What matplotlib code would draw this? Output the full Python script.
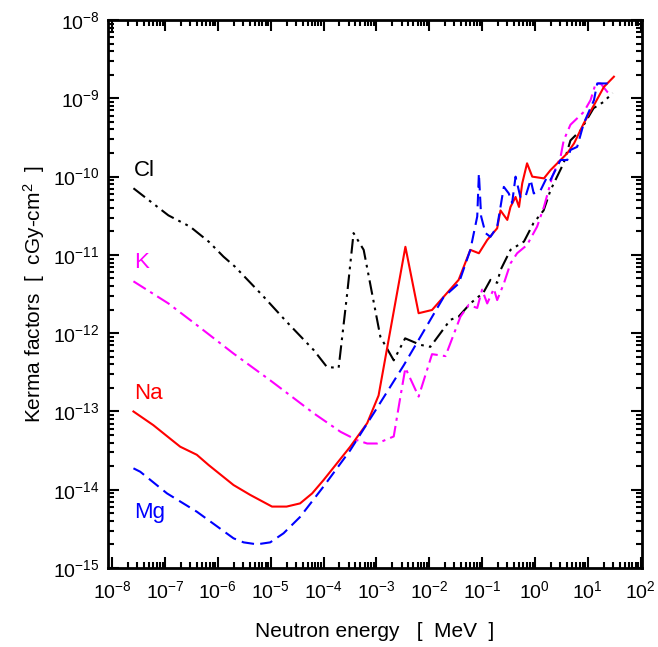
import matplotlib
matplotlib.use("Agg")
import matplotlib.pyplot as plt

# ============================================================
# DATA
# ============================================================

cl_energy = [2.53e-8, 1.16e-7, 3.0e-7, 6.7e-7, 1.28e-6, 2.1e-6, 6.8e-6, 2.0e-5, 6.5e-5,
             1.16e-4, 1.93e-4, 2.8e-4, 3.7e-4, 5.75e-4, 1.19e-3, 2.13e-3, 3.5e-3, 6.8e-3,
             1.05e-2, 2.5e-2, 3.6e-2, 6.0e-2, 0.106, 0.144, 0.193, 0.223, 0.345, 0.62,
             0.94, 1.46, 1.97, 3.5, 4.7, 7.3, 12.9, 19.9, 29.5]
cl_kerma = [7.1e-11, 3.2e-11, 2.29e-11, 1.48e-11, 9.5e-12, 7.1e-12, 3.1e-12, 1.4e-12, 6.1e-13,
            3.7e-13, 3.6e-13, 3.2e-12, 1.9e-11, 1.16e-11, 9.0e-13, 4.5e-13, 8.6e-13, 7.1e-13,
            6.7e-13, 1.48e-12, 1.63e-12, 2.4e-12, 3.3e-12, 4.8e-12, 4.4e-12, 6.4e-12, 1.16e-11, 1.48e-11,
            2.55e-11, 3.7e-11, 6.7e-11, 1.49e-10, 2.9e-10, 3.9e-10, 7.5e-10, 9.0e-10, 1.17e-9]

k_energy = [2.53e-8, 1.16e-7, 4.0e-7, 1.98e-6, 9.8e-6, 2.35e-5, 6.5e-5, 2.1e-4, 4.3e-4,
            6.7e-4, 1.03e-3, 2.13e-3, 2.85e-3, 3.54e-3, 6.3e-3, 1.13e-2, 2.03e-2, 3.9e-2,
            5.6e-2, 8.1e-2, 0.100, 0.125, 0.167, 0.193, 0.258, 0.345, 0.46, 0.71, 1.1,
            1.48, 2.13, 3.06, 3.5, 4.7, 8.4, 11.3, 14.1, 17.5, 23.4, 29.0]
k_kerma = [4.6e-12, 2.4e-12, 1.27e-12, 5.5e-13, 2.5e-13, 1.6e-13, 9.5e-14, 5.5e-14, 4.3e-14,
           3.9e-14, 3.9e-14, 4.8e-14, 1.55e-13, 3.6e-13, 1.55e-13, 5.4e-13, 5.1e-13, 1.63e-12,
           2.3e-12, 2.1e-12, 3.6e-12, 2.4e-12, 3.7e-12, 2.65e-12, 4.3e-12, 7.8e-12, 1.05e-11, 1.34e-11, 2.3e-11,
           4.1e-11, 1.0e-10, 1.8e-10, 2.9e-10, 4.6e-10, 6.7e-10, 9.5e-10, 1.55e-9, 1.55e-9, 1.21e-9, 1.1e-9]

na_energy = [2.53e-8, 6.0e-8, 1.25e-7, 1.94e-7, 4.0e-7, 6.7e-7, 1.98e-6, 4.1e-6, 1.06e-5,
             2.0e-5, 3.6e-5, 6.1e-5, 1.0e-4, 3.2e-4, 6.7e-4, 1.1e-3, 3.54e-3, 6.3e-3,
             1.13e-2, 2.03e-2, 3.6e-2, 6.0e-2, 8.7e-2, 0.125, 0.193, 0.223, 0.30, 0.345,
             0.43, 0.50, 0.575, 0.71, 0.89, 1.48, 1.97, 3.05, 4.1, 5.5, 8.4, 13.1, 20.2, 31.2]
na_kerma = [1.0e-13, 6.7e-14, 4.5e-14, 3.55e-14, 2.8e-14, 2.07e-14, 1.15e-14, 8.6e-15, 6.1e-15,
            6.1e-15, 6.7e-15, 9.0e-15, 1.33e-14, 3.55e-14, 7.1e-14, 1.6e-13, 1.27e-11, 1.8e-12,
            1.98e-12, 3.1e-12, 4.8e-12, 1.16e-11, 1.05e-11, 1.55e-11, 2.19e-11, 3.7e-11, 2.8e-11, 4.1e-11,
            5.5e-11, 4.1e-11, 8.2e-11, 1.48e-10, 1.0e-10, 9.5e-11, 1.21e-10, 1.63e-10, 1.99e-10, 2.66e-10,
            4.8e-10, 8.2e-10, 1.4e-9, 1.89e-9]

mg_energy = [2.53e-8, 3.4e-8, 1.09e-7, 4.0e-7, 1.98e-6, 3.07e-6, 5.5e-6, 9.8e-6, 1.75e-5,
             3.6e-5, 1.0e-4, 3.2e-4, 8.9e-4, 3.3e-3, 1.88e-2, 3.6e-2, 6.0e-2, 8.1e-2,
             8.7e-2, 9.6e-2, 0.116, 0.144, 0.193, 0.223, 0.258, 0.32, 0.37, 0.43, 0.53,
             0.66, 0.83, 0.95, 1.28, 1.71, 1.97, 3.05, 4.1, 4.7, 6.3, 8.4, 13.1, 15.1, 31.2]
mg_kerma = [1.88e-14, 1.7e-14, 9.0e-15, 5.25e-15, 2.4e-15, 2.13e-15, 2.01e-15, 2.13e-15, 2.78e-15,
            4.5e-15, 1.1e-14, 3.2e-14, 9.5e-14, 3.9e-13, 2.9e-12, 4.3e-12, 1.16e-11, 3.1e-11,
            1.1e-10, 3.1e-11, 1.9e-11, 1.7e-11, 2.3e-11, 4.1e-11, 7.4e-11, 6.1e-11, 4.6e-11, 1.0e-10, 5.5e-11,
            5.5e-11, 9.1e-11, 6.1e-11, 6.7e-11, 1.0e-10, 9.1e-11, 1.63e-10, 1.63e-10, 2.19e-10, 2.4e-10,
            4.8e-10, 9.5e-10, 1.55e-9, 1.55e-9]

series_names = ["Cl", "K", "Na", "Mg"]
label_kerma = [1.2e-10, 7.9e-12, 1.72e-13, 5.1e-15]   # where the curve names sit

x_decades = list(range(-8, 3))
y_decades = list(range(-15, -7))

# ============================================================
# PLOT
# ============================================================

plt.rcParams['font.family'] = ['Liberation Sans', 'DejaVu Sans']
plt.rcParams['mathtext.default'] = 'regular'

fig = plt.figure(figsize=(6.58, 6.47), dpi=100)
ax = fig.add_axes([0.164, 0.122, 0.812, 0.847])

colors = ['black', '#ff00ff', '#ff0000', '#0000ff']
lw = 1.5
ax.plot(cl_energy, cl_kerma, color=colors[0], lw=lw, dashes=(7, 2.5, 1.3, 2.5, 1.3, 2.5))
ax.plot(k_energy, k_kerma, color=colors[1], lw=lw, dashes=(7, 2.5, 1.5, 2.5))
ax.plot(na_energy, na_kerma, color=colors[2], lw=lw)
ax.plot(mg_energy, mg_kerma, color=colors[3], lw=lw, dashes=(6, 3))

# curve labels
for name, yk, c in zip(series_names, label_kerma, colors):
    ax.text(2.6e-8, yk, name, color=c, fontsize=16, va='center', ha='left')

ax.set_xscale('log')
ax.set_yscale('log')
ax.set_xlim(10 ** -8.08, 10 ** 2.03)
ax.set_ylim(1e-15, 1e-8)

# only ticks that lie inside the box
x_major = [10.0 ** d for d in x_decades]
y_major = [10.0 ** d for d in y_decades]
x_minor = [m * 10.0 ** d for d in x_decades[:-1] for m in range(2, 10)]
y_minor = [m * 10.0 ** d for d in y_decades[:-1] for m in range(2, 10)]
ax.set_xticks(x_major)
ax.set_xticklabels([f'$10^{{{d}}}$' for d in x_decades])
ax.set_yticks(y_major)
ax.set_yticklabels([f'$10^{{{d}}}$' for d in y_decades])
ax.set_xticks(x_minor, minor=True)
ax.set_yticks(y_minor, minor=True)
ax.set_xticklabels([], minor=True)
ax.set_yticklabels([], minor=True)

ax.tick_params(which='both', direction='in', top=True, right=True, width=1.5, labelsize=14)
ax.tick_params(which='major', length=8)
ax.tick_params(which='minor', length=4)
ax.tick_params(axis='x', pad=9)
ax.tick_params(axis='y', pad=6)
for s in ax.spines.values():
    s.set_linewidth(2)

ax.set_xlabel('Neutron energy   [  MeV  ]', fontsize=15, labelpad=14)
ax.set_ylabel('Kerma factors  [  cGy-cm$^2$  ]', fontsize=15, labelpad=4)

fig.savefig('out.png', dpi=100)
